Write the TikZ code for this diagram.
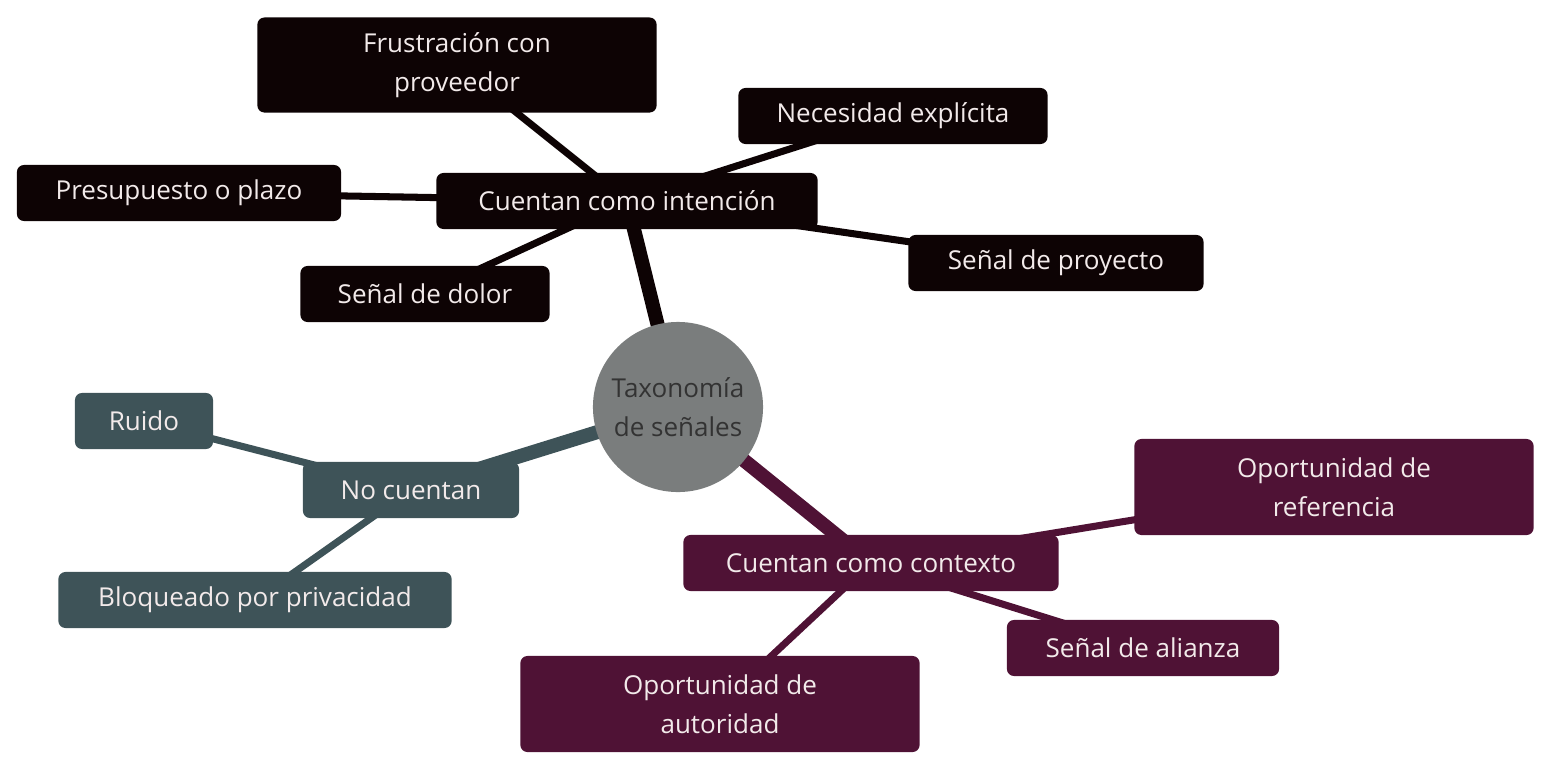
\documentclass[tikz,border=0pt]{standalone}
\usepackage{fontspec}
\setmainfont{Open Sans}
\usetikzlibrary{positioning}
\usetikzlibrary{backgrounds}
\definecolor{cint}{HTML}{0D0304}
\definecolor{cno}{HTML}{3E5358}
\definecolor{cctx}{HTML}{4F1235}
\definecolor{cmid}{HTML}{7A7D7D}
\definecolor{ctxt}{HTML}{F2EAEA}
\tikzset{box/.style={rectangle, rounded corners=2pt, inner sep=0pt, align=center,
  text=ctxt, font=\fontsize{7.4}{11}\selectfont}}
\tikzset{hub/.style={circle, fill=cmid, minimum size=1.7cm, inner sep=0pt, align=center,
  text=black!80, font=\fontsize{7.4}{11}\selectfont}}
\tikzset{trunk/.style={line width=4pt}}
\tikzset{twig/.style={line width=2pt}}

\begin{document}
\begin{tikzpicture}[x=0.01cm, y=-0.01cm]
    \useasboundingbox (0,0) rectangle (1568,778);
    \node[hub] (tax) at (678,407) {Taxonomía\\de señales};

    \node[box, fill=cint, minimum width=3.81cm, minimum height=0.56cm] (int) at (627,201) {Cuentan como intención};
    \node[box, fill=cint, minimum width=3.99cm, minimum height=0.95cm] (fru) at (457,65) {Frustración con\\proveedor};
    \node[box, fill=cint, minimum width=3.09cm, minimum height=0.56cm] (nec) at (893,116) {Necesidad explícita};
    \node[box, fill=cint, minimum width=3.24cm, minimum height=0.56cm] (pre) at (179,193) {Presupuesto o plazo};
    \node[box, fill=cint, minimum width=2.95cm, minimum height=0.56cm] (pro) at (1056,263) {Señal de proyecto};
    \node[box, fill=cint, minimum width=2.49cm, minimum height=0.56cm] (dol) at (425,294) {Señal de dolor};

    \node[box, fill=cno, minimum width=2.16cm, minimum height=0.56cm] (no) at (411,490) {No cuentan};
    \node[box, fill=cno, minimum width=1.38cm, minimum height=0.56cm] (rui) at (144,421) {Ruido};
    \node[box, fill=cno, minimum width=3.93cm, minimum height=0.56cm] (blo) at (255,600) {Bloqueado por privacidad};

    \node[box, fill=cctx, minimum width=3.75cm, minimum height=0.56cm] (ctx) at (871,563) {Cuentan como contexto};
    \node[box, fill=cctx, minimum width=3.99cm, minimum height=0.96cm] (ref) at (1334,487) {Oportunidad de\\referencia};
    \node[box, fill=cctx, minimum width=2.72cm, minimum height=0.56cm] (ali) at (1143,648) {Señal de alianza};
    \node[box, fill=cctx, minimum width=3.99cm, minimum height=0.96cm] (aut) at (720,704) {Oportunidad de\\autoridad};

    \begin{scope}[on background layer]
    \draw[trunk, cint] (tax.center) -- (int.center);
    \draw[trunk, cno] (tax.center) -- (no.center);
    \draw[trunk, cctx] (tax.center) -- (ctx.center);
    \foreach \leaf in {fru, nec, pre, pro, dol}
        \draw[twig, cint] (int.center) -- (\leaf.center);
    \foreach \leaf in {rui, blo}
        \draw[twig, cno] (no.center) -- (\leaf.center);
    \foreach \leaf in {ref, ali, aut}
        \draw[twig, cctx] (ctx.center) -- (\leaf.center);
    \end{scope}
\end{tikzpicture}
\end{document}
